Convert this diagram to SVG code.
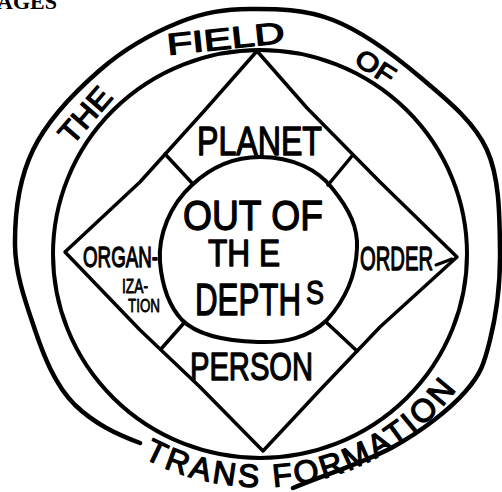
<svg xmlns="http://www.w3.org/2000/svg" width="502" height="492" viewBox="0 0 502 492">
<style>
.ln{fill:none;stroke:#000;stroke-linecap:round;stroke-linejoin:round}
.t{font-family:"Liberation Sans",Arial,sans-serif;fill:#000;stroke:#000;stroke-width:1.3;stroke-linejoin:round}
.s{stroke-width:0.8}
</style>
<defs>
<path id="arcT" d="M 13 240 A 247 247 0 0 0 507 240"/>
</defs>
<rect width="502" height="492" fill="#fff"/>
<text x="-3" y="9" font-family="Liberation Serif,serif" font-weight="bold" font-size="22" fill="#000">AGES</text>

<g id="outer-ring">
<path class="ln" stroke-width="4.5" d="M293 488 C326 474,364 463,393 447 C422 431,449 410,465 392 C481 374,484 364,490 340 C496 316,500.5 282,500 250 C499.5 218,500 179,487 150 C474 121,446 99,420 77 C394 55,361 31,333 20 C305 9,275.5 8.7,250 9 C224.5 9.3,205 12,180 22 C155 32,124.5 48.7,100 70 C75.5 91.3,47 121,33 150 C19 179,14.7 215,15 245 C15.3 275,26.3 304,35 330 C43.7 355.8,55 385,75 405 C95 424,116 434,140 443"/>
<text class="t" x="72" y="146" font-size="30" textLength="64" lengthAdjust="spacingAndGlyphs" transform="rotate(-49 72 146)">THE</text>
<text class="t" x="168" y="55" font-size="30" textLength="118" lengthAdjust="spacingAndGlyphs" transform="rotate(-6 168 55)">FIELD</text>
<text class="t" x="353" y="63" font-size="26" textLength="42" lengthAdjust="spacingAndGlyphs" transform="rotate(33 353 63)">OF</text>
<text class="t" font-size="32" letter-spacing="3"><textPath href="#arcT" startOffset="266">TRANS FORMATION</textPath></text>
</g>

<g id="inner-ring">
<ellipse class="ln" stroke-width="4" cx="260" cy="254" rx="207" ry="204"/>
</g>

<g id="diamond">
<polygon class="ln" stroke-width="3.5" points="257,51 307,108 380,182 457,257 380,327 320,390 263,451 200,387 140,330 65,252 140,182 205,110"/>
</g>

<g id="connectors">
<line class="ln" stroke-width="3.5" x1="165" y1="154" x2="192" y2="183"/>
<line class="ln" stroke-width="3.5" x1="352" y1="156" x2="328" y2="185"/>
<line class="ln" stroke-width="3.5" x1="161" y1="349" x2="184" y2="323"/>
<line class="ln" stroke-width="3.5" x1="357" y1="351" x2="327" y2="323"/>
</g>

<g id="center">
<path class="ln" stroke-width="4" d="M260 157 C293 157,318 170,332 188 C350 210,358 228,357 248 C356 275,345 300,327 320 C308 338,285 343,258 342 C225 341,197 335,182 320 C168 305,162 285,160 262 C158 235,170 205,192 185 C210 168,232 157,260 157 Z"/>
<text class="t" x="183" y="230" font-size="42" textLength="140" lengthAdjust="spacingAndGlyphs">OUT OF</text>
<text class="t" x="208" y="266" font-size="36" textLength="72" lengthAdjust="spacingAndGlyphs">TH E</text>
<text class="t" x="195" y="315" font-size="44" textLength="106" lengthAdjust="spacingAndGlyphs">DEPTH</text>
<text class="t" x="306" y="304" font-size="34" textLength="18" lengthAdjust="spacingAndGlyphs">S</text>
</g>

<g id="planet">
<text class="t" x="197" y="155" font-size="40" textLength="125" lengthAdjust="spacingAndGlyphs">PLANET</text>
</g>

<g id="person">
<text class="t" x="190" y="380" font-size="38" textLength="123" lengthAdjust="spacingAndGlyphs">PERSON</text>
</g>

<g id="organization">
<text class="t" x="83" y="267" font-size="30" textLength="75" lengthAdjust="spacingAndGlyphs">ORGAN-</text>
<text class="t s" x="122" y="293" font-size="20" textLength="26" lengthAdjust="spacingAndGlyphs">IZA-</text>
<text class="t s" x="128" y="312" font-size="19" textLength="32" lengthAdjust="spacingAndGlyphs">TION</text>
</g>

<g id="order">
<text class="t" x="360" y="270" font-size="33" textLength="73" lengthAdjust="spacingAndGlyphs">ORDER</text>
<line class="ln" stroke-width="3" x1="436" y1="265" x2="452" y2="259"/>
</g>
</svg>
